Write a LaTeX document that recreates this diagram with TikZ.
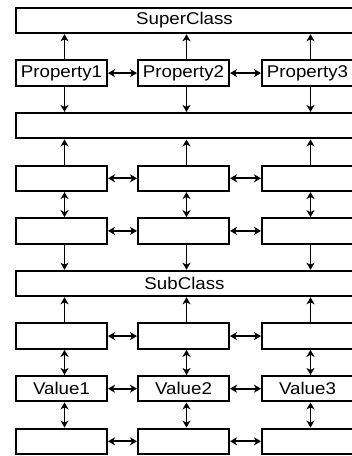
\documentclass[tikz,border=0pt]{standalone}
\usepackage{fontspec}
\usepackage{graphicx}
\setmainfont{Liberation Sans}
\usetikzlibrary{arrows.meta}
\newcommand\wtxt[1]{\scalebox{1.1}[1]{#1}}
\begin{document}
\begin{tikzpicture}[x=1pt,y=-1pt,
  box/.style={draw, line width=2pt, minimum width=91pt, minimum height=25.5pt, inner sep=0pt, font=\fontsize{17}{19}\selectfont},
  wide/.style={box, minimum width=337pt},
  arr/.style={line width=1.8pt, -{Stealth[length=7pt,width=8pt,inset=2pt]}},
  dbl/.style={line width=1.8pt, {Stealth[length=7pt,width=8pt,inset=2pt]}-{Stealth[length=7pt,width=8pt,inset=2pt]}}]
\clip (0,0) rectangle (352,456);
% rows
\node[wide] (super) at (184.5,20.5) {\wtxt{SuperClass}};
\node[box] (p1) at (61.5,73.1) {\wtxt{Property1}};
\node[box] (p2) at (183.5,73.1) {\wtxt{Property2}};
\node[box] (p3) at (307.5,73.1) {\wtxt{Property3}};
\node[wide] (w3) at (184.5,125.7) {};
\node[box] (a1) at (61.5,178.3) {};
\node[box] (a2) at (183.5,178.3) {};
\node[box] (a3) at (307.5,178.3) {};
\node[box] (b1) at (61.5,230.9) {};
\node[box] (b2) at (183.5,230.9) {};
\node[box] (b3) at (307.5,230.9) {};
\node[wide] (sub) at (184.5,283.5) {\wtxt{SubClass}};
\node[box] (c1) at (61.5,336.1) {};
\node[box] (c2) at (183.5,336.1) {};
\node[box] (c3) at (307.5,336.1) {};
\node[box] (v1) at (61.5,388.7) {\wtxt{Value1}};
\node[box] (v2) at (183.5,388.7) {\wtxt{Value2}};
\node[box] (v3) at (307.5,388.7) {\wtxt{Value3}};
\node[box] (d1) at (61.5,441.3) {};
\node[box] (d2) at (183.5,441.3) {};
\node[box] (d3) at (307.5,441.3) {};
% vertical connectors
\foreach \i in {1,2,3}{
  \draw[arr] ([xshift=3pt]p\i.north) -- ([xshift=3pt]super.south -| p\i.north);
  \draw[arr] ([xshift=3pt]p\i.south) -- ([xshift=3pt]w3.north -| p\i.south);
  \draw[arr] ([xshift=3pt]a\i.north) -- ([xshift=3pt]w3.south -| a\i.north);
  \draw[dbl] ([xshift=3pt]a\i.south) -- ([xshift=3pt]b\i.north);
  \draw[arr] ([xshift=3pt]b\i.south) -- ([xshift=3pt]sub.north -| b\i.south);
  \draw[arr] ([xshift=3pt]c\i.north) -- ([xshift=3pt]sub.south -| c\i.north);
  \draw[dbl] ([xshift=3pt]c\i.south) -- ([xshift=3pt]v\i.north);
  \draw[dbl] ([xshift=3pt]v\i.south) -- ([xshift=3pt]d\i.north);
}
% horizontal connectors
\foreach \r in {p,a,b,c,v,d}{
  \draw[dbl] (\r1.east) -- (\r2.west);
  \draw[dbl] (\r2.east) -- (\r3.west);
}
\end{tikzpicture}
\end{document}
